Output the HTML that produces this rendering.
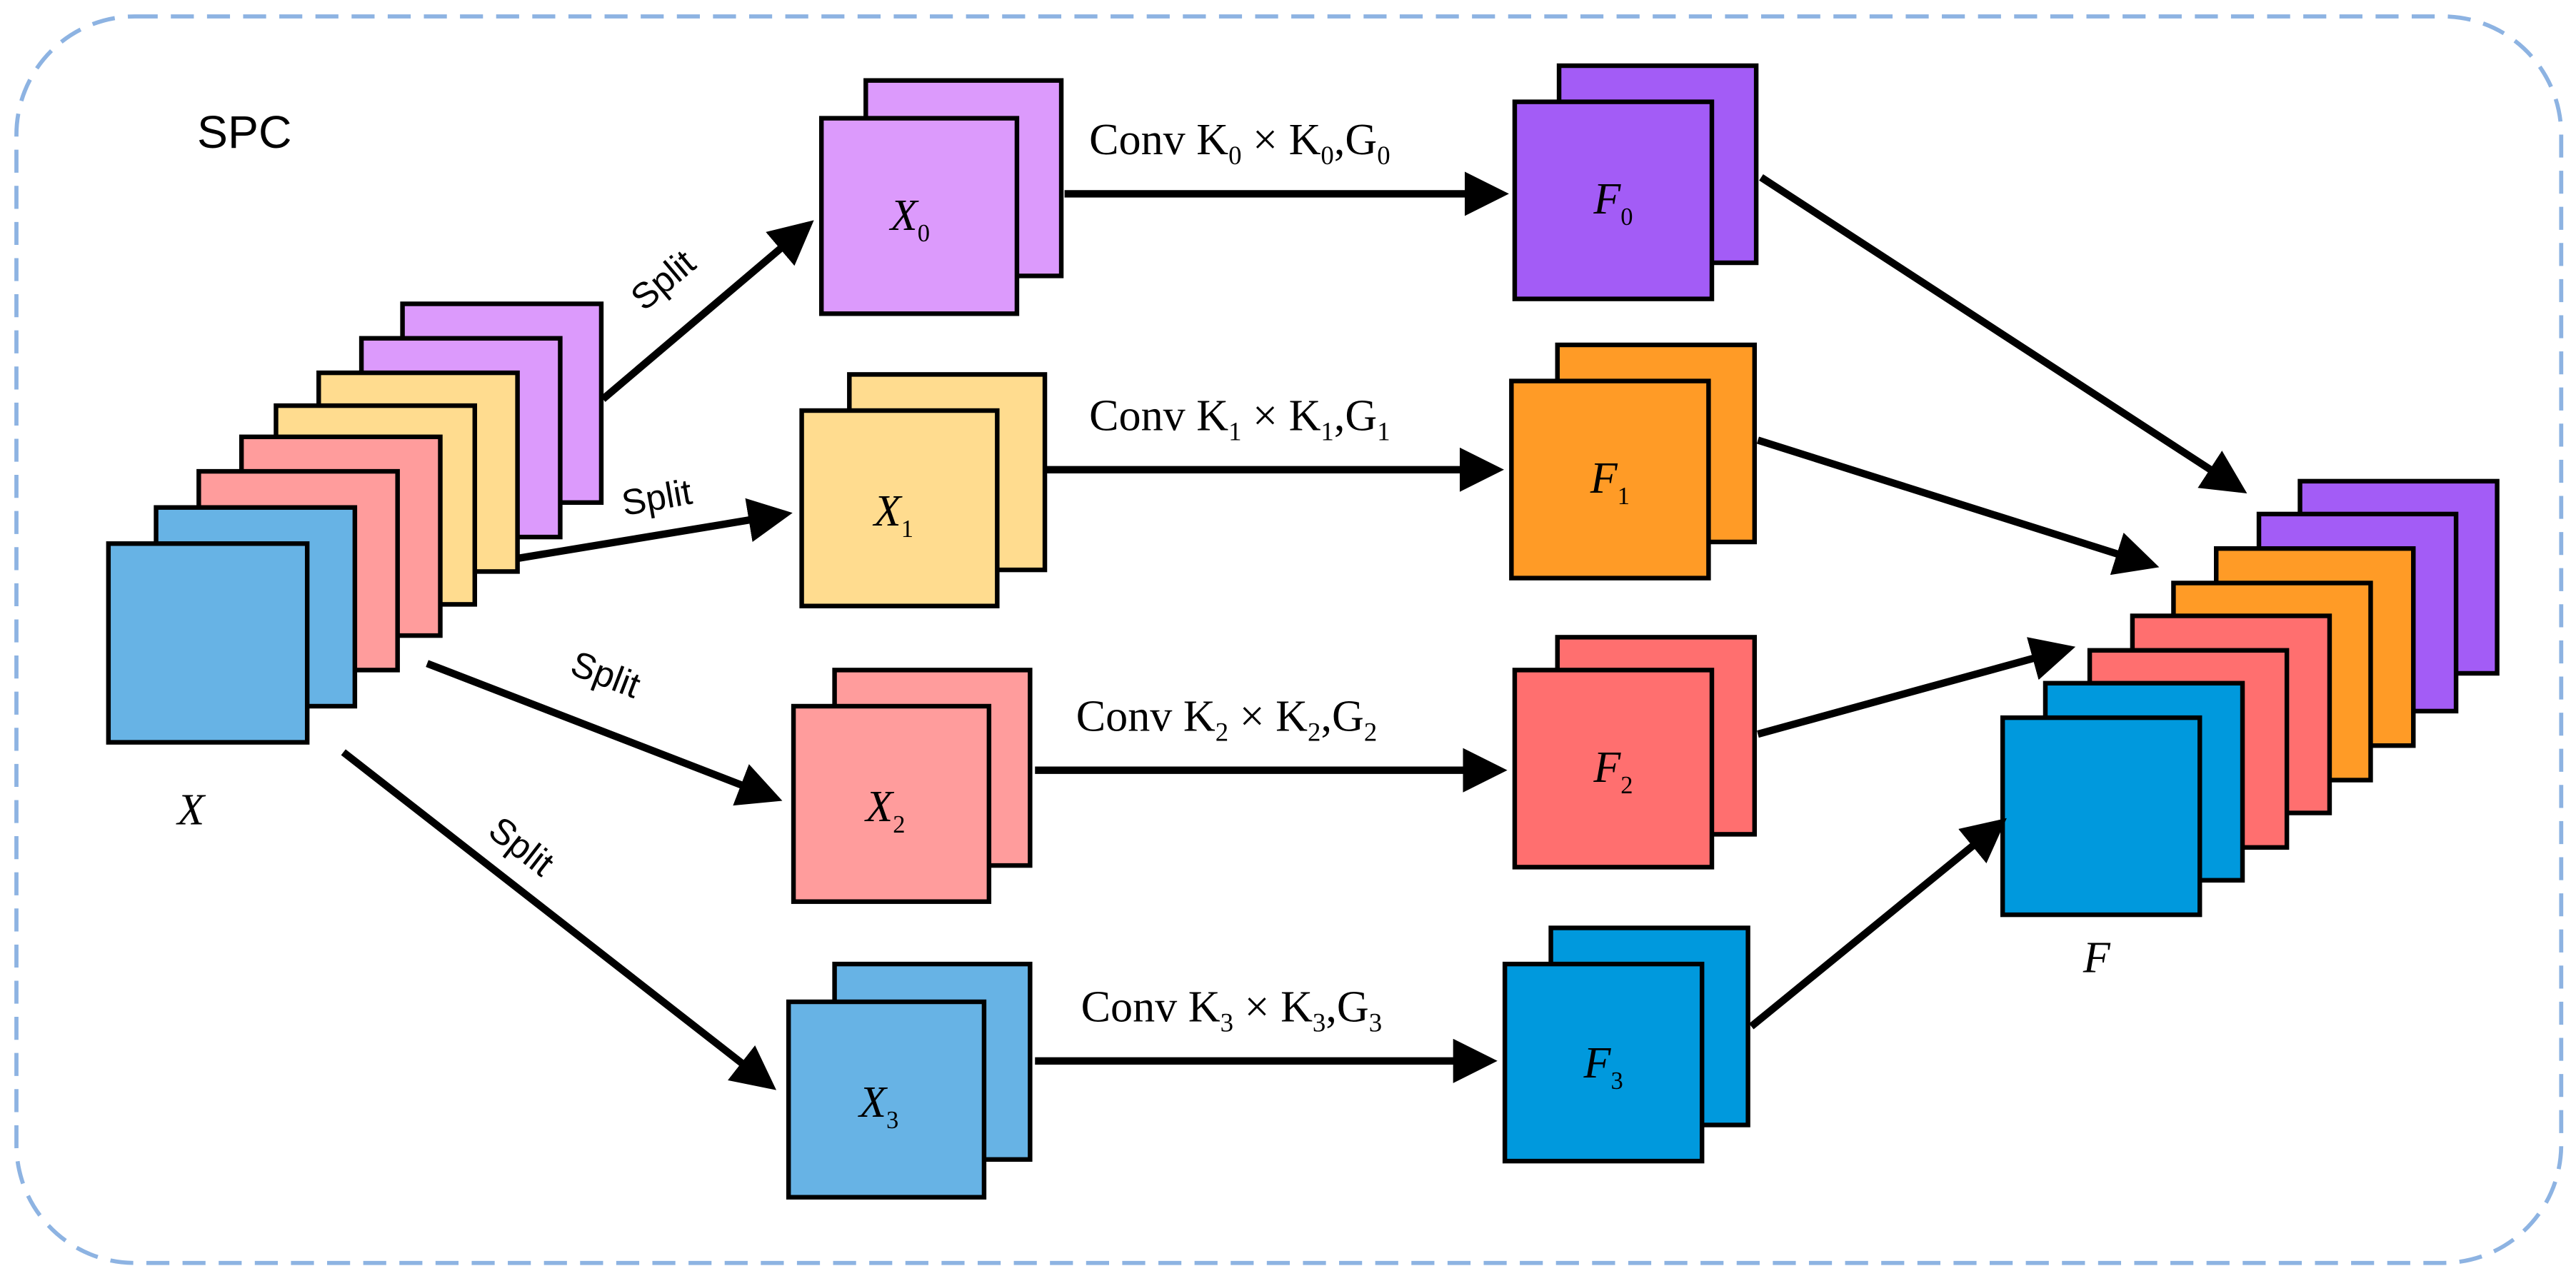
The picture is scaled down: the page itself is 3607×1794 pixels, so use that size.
<!DOCTYPE html>
<html><head><meta charset="utf-8"><style>
html,body{margin:0;padding:0;background:#fff;}
svg{display:block;}
.t{font-family:"Liberation Serif",serif;}
.s{font-family:"Liberation Sans","DejaVu Sans",sans-serif;}
</style></head><body>
<svg width="3607" height="1794" viewBox="0 0 1568 780" preserveAspectRatio="none" xmlns="http://www.w3.org/2000/svg">
<defs>
<marker id="a" markerWidth="6" markerHeight="6" refX="5" refY="3" orient="auto" markerUnits="strokeWidth">
<path d="M0,0 L6,3 L0,6 Z" fill="#000"/></marker>
</defs>
<rect x="10" y="10" width="1549" height="759" rx="72" ry="72" fill="none" stroke="#8db3e2" stroke-width="2.5" stroke-dasharray="14,8"/>
<text x="120" y="90" class="s" font-size="28">SPC</text>

<g stroke="#000" stroke-width="2.8">
<!-- left stack -->
<rect x="245" y="185" width="121" height="121" fill="#dc9afc"/>
<rect x="220" y="206" width="121" height="121" fill="#dc9afc"/>
<rect x="194" y="227" width="121" height="121" fill="#ffdc8f"/>
<rect x="168" y="247" width="121" height="121" fill="#ffdc8f"/>
<rect x="147" y="266" width="121" height="121" fill="#ff9c9c"/>
<rect x="121" y="287" width="121" height="121" fill="#ff9c9c"/>
<rect x="95" y="309" width="121" height="121" fill="#67b3e5"/>
<rect x="66" y="331" width="121" height="121" fill="#67b3e5"/>

<!-- X boxes -->
<rect x="527" y="49" width="119" height="119" fill="#dc9afc"/>
<rect x="500" y="72" width="119" height="119" fill="#dc9afc"/>
<rect x="517" y="228" width="119" height="119" fill="#ffdc8f"/>
<rect x="488" y="250" width="119" height="119" fill="#ffdc8f"/>
<rect x="508" y="408" width="119" height="119" fill="#ff9c9c"/>
<rect x="483" y="430" width="119" height="119" fill="#ff9c9c"/>
<rect x="508" y="587" width="119" height="119" fill="#67b3e5"/>
<rect x="480" y="610" width="119" height="119" fill="#67b3e5"/>

<!-- F boxes -->
<rect x="949" y="40" width="120" height="120" fill="#a35cf6"/>
<rect x="922" y="62" width="120" height="120" fill="#a35cf6"/>
<rect x="948" y="210" width="120" height="120" fill="#ff9b26"/>
<rect x="920" y="232" width="120" height="120" fill="#ff9b26"/>
<rect x="948" y="388" width="120" height="120" fill="#ff6f6f"/>
<rect x="922" y="408" width="120" height="120" fill="#ff6f6f"/>
<rect x="944" y="565" width="120" height="120" fill="#0099dd"/>
<rect x="916" y="587" width="120" height="120" fill="#0099dd"/>

<!-- right stack -->
<rect x="1400" y="293" width="120" height="117" fill="#a35cf6"/>
<rect x="1375" y="313" width="120" height="120" fill="#a35cf6"/>
<rect x="1349" y="334" width="120" height="120" fill="#ff9b26"/>
<rect x="1323" y="355" width="120" height="120" fill="#ff9b26"/>
<rect x="1298" y="375" width="120" height="120" fill="#ff6f6f"/>
<rect x="1272" y="396" width="120" height="120" fill="#ff6f6f"/>
<rect x="1245" y="416" width="120" height="120" fill="#0099dd"/>
<rect x="1219" y="437" width="120" height="120" fill="#0099dd"/>
</g>

<g stroke="#000" stroke-width="4.5" fill="none" marker-end="url(#a)">
<line x1="367" y1="243" x2="492" y2="137"/>
<line x1="315" y1="340" x2="478" y2="313"/>
<line x1="260" y1="404" x2="472" y2="486"/>
<line x1="209" y1="458" x2="469" y2="661"/>
<line x1="648" y1="118" x2="914" y2="118"/>
<line x1="636" y1="286" x2="911" y2="286"/>
<line x1="630" y1="469" x2="913" y2="469"/>
<line x1="630" y1="646" x2="907" y2="646"/>
<line x1="1072" y1="108" x2="1364" y2="298"/>
<line x1="1070" y1="268" x2="1310" y2="344"/>
<line x1="1070" y1="447" x2="1259" y2="395"/>
<line x1="1066" y1="625" x2="1218" y2="501"/>
</g>

<g class="s" font-size="22">
<text x="0" y="0" transform="translate(392,190) rotate(-40)">Split</text>
<text x="0" y="0" transform="translate(380,314) rotate(-10)">Split</text>
<text x="0" y="0" transform="translate(346,410) rotate(21)">Split</text>
<text x="0" y="0" transform="translate(296,508) rotate(38)">Split</text>
</g>

<g class="t" font-size="27">
<text x="663" y="94">Conv K<tspan font-size="16" dy="6">0</tspan><tspan dy="-6"> × K</tspan><tspan font-size="16" dy="6">0</tspan><tspan dy="-6">,G</tspan><tspan font-size="16" dy="6">0</tspan></text>
<text x="663" y="262">Conv K<tspan font-size="16" dy="6">1</tspan><tspan dy="-6"> × K</tspan><tspan font-size="16" dy="6">1</tspan><tspan dy="-6">,G</tspan><tspan font-size="16" dy="6">1</tspan></text>
<text x="655" y="445">Conv K<tspan font-size="16" dy="6">2</tspan><tspan dy="-6"> × K</tspan><tspan font-size="16" dy="6">2</tspan><tspan dy="-6">,G</tspan><tspan font-size="16" dy="6">2</tspan></text>
<text x="658" y="622">Conv K<tspan font-size="16" dy="6">3</tspan><tspan dy="-6"> × K</tspan><tspan font-size="16" dy="6">3</tspan><tspan dy="-6">,G</tspan><tspan font-size="16" dy="6">3</tspan></text>

<text x="108" y="502" font-style="italic">X</text>
<text x="1268" y="592" font-style="italic">F</text>

<text x="542" y="140" font-style="italic">X<tspan font-style="normal" font-size="15" dy="7">0</tspan></text>
<text x="532" y="320" font-style="italic">X<tspan font-style="normal" font-size="15" dy="7">1</tspan></text>
<text x="527" y="500" font-style="italic">X<tspan font-style="normal" font-size="15" dy="7">2</tspan></text>
<text x="523" y="680" font-style="italic">X<tspan font-style="normal" font-size="15" dy="7">3</tspan></text>

<text x="970" y="130" font-style="italic">F<tspan font-style="normal" font-size="15" dy="7">0</tspan></text>
<text x="968" y="300" font-style="italic">F<tspan font-style="normal" font-size="15" dy="7">1</tspan></text>
<text x="970" y="476" font-style="italic">F<tspan font-style="normal" font-size="15" dy="7">2</tspan></text>
<text x="964" y="656" font-style="italic">F<tspan font-style="normal" font-size="15" dy="7">3</tspan></text>
</g>
</svg>
</body></html>
